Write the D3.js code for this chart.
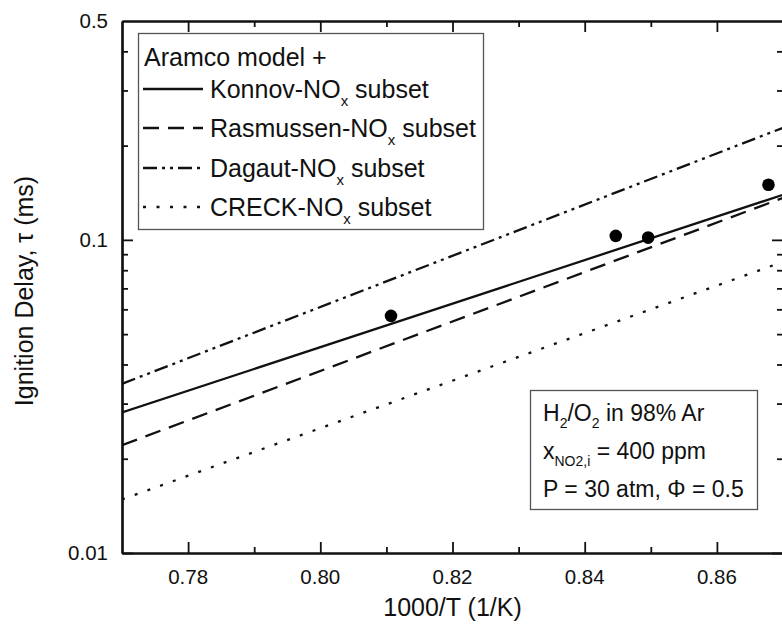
<!DOCTYPE html>
<html>
<head>
<meta charset="utf-8">
<script src="https://cdn.jsdelivr.net/npm/d3@7"></script>
<style>
  html, body { margin: 0; padding: 0; background: #fff; }
  svg { display: block; font-family: "Liberation Sans", Arial, sans-serif; }
</style>
</head>
<body>
<svg id="chart" width="782" height="627"></svg>
<script>
// Inverse temperature grid of the model curves (1000/T, 1/K)
const modelX = [0.77, 0.87];
// Ignition delay predictions (ms) for each NOx sub-mechanism
const konnovTau = [0.0281, 0.1393];
const rasmussenTau = [0.0221, 0.1362];
const dagautTau = [0.0347, 0.228];
const creckTau = [0.01482, 0.0851];

// Shock-tube measurements
const expX = [0.8107, 0.8447, 0.8496, 0.8678];
const expTau = [0.0572, 0.1030, 0.1017, 0.1499];

// Axis ticks
const xMajor = [0.78, 0.80, 0.82, 0.84, 0.86];
const xMinor = [0.79, 0.81, 0.83, 0.85, 0.87];
const xTickLabels = ["0.78", "0.80", "0.82", "0.84", "0.86"];
const yMajor = [0.01, 0.1];
const yMinor = [0.02, 0.03, 0.04, 0.05, 0.06, 0.07, 0.08, 0.09, 0.2, 0.3, 0.4];
const yLabelValues = [0.01, 0.1, 0.5];
const yTickLabels = ["0.01", "0.1", "0.5"];

const series = [
  { name: "Konnov", tau: konnovTau, dash: null },
  { name: "Rasmussen", tau: rasmussenTau, dash: "16,9" },
  { name: "Dagaut", tau: dagautTau, dash: "14,5,3,5,3,5" },
  { name: "CRECK", tau: creckTau, dash: "3,10.5" }
];

const ink = "#111";
const pLeft = 122, pRight = 783, pTop = 21, pBottom = 553;

const svg = d3.select("#chart");
const x = d3.scaleLinear().domain([0.77, 0.87]).range([pLeft, pRight]);
const y = d3.scaleLog().domain([0.01, 0.5]).range([pBottom, pTop]);

svg.append("defs").append("clipPath").attr("id", "plotClip")
  .append("rect").attr("x", pLeft).attr("y", pTop)
  .attr("width", pRight - pLeft).attr("height", pBottom - pTop);

// Model curves
const line = d3.line().x(d => x(d[0])).y(d => y(d[1]));
const curves = svg.append("g").attr("clip-path", "url(#plotClip)");
series.forEach(s => {
  curves.append("path")
    .datum(modelX.map((v, i) => [v, s.tau[i]]))
    .attr("d", line)
    .attr("fill", "none")
    .attr("stroke", ink)
    .attr("stroke-width", 2.3)
    .attr("stroke-dasharray", s.dash);
});

// Measurements
svg.append("g").selectAll("circle")
  .data(expX.map((v, i) => [v, expTau[i]]))
  .join("circle")
  .attr("cx", d => x(d[0]))
  .attr("cy", d => y(d[1]))
  .attr("r", 6.3)
  .attr("fill", "#000");

// Axes: ticks pointing inward on all four sides
function styleAxis(g) {
  g.selectAll(".domain").attr("stroke", ink).attr("stroke-width", 2.2);
  g.selectAll(".tick line").attr("stroke", ink).attr("stroke-width", 1.8);
  g.selectAll("text").remove();
}
const axes = svg.append("g");
[[d3.axisBottom, pBottom, -11, xMajor], [d3.axisBottom, pBottom, -6, xMinor],
 [d3.axisTop, pTop, -11, xMajor], [d3.axisTop, pTop, -6, xMinor]].forEach(([fn, pos, size, vals]) => {
  axes.append("g").attr("transform", `translate(0,${pos})`)
    .call(fn(x).tickValues(vals).tickSize(size).tickSizeOuter(0)).call(styleAxis);
});
[[d3.axisLeft, pLeft, -11, yMajor], [d3.axisLeft, pLeft, -6, yMinor],
 [d3.axisRight, pRight, -11, yMajor], [d3.axisRight, pRight, -6, yMinor]].forEach(([fn, pos, size, vals]) => {
  axes.append("g").attr("transform", `translate(${pos},0)`)
    .call(fn(y).tickValues(vals).tickSize(size).tickSizeOuter(0)).call(styleAxis);
});

// Tick labels
svg.append("g").selectAll("text")
  .data(xMajor)
  .join("text")
  .attr("x", d => x(d))
  .attr("y", pBottom + 31)
  .attr("text-anchor", "middle")
  .attr("font-size", 20.5)
  .attr("fill", ink)
  .text((d, i) => xTickLabels[i]);

svg.append("g").selectAll("text")
  .data(yLabelValues)
  .join("text")
  .attr("x", pLeft - 14)
  .attr("y", d => y(d) + 7)
  .attr("text-anchor", "end")
  .attr("font-size", 20.5)
  .attr("fill", ink)
  .text((d, i) => yTickLabels[i]);

// Axis titles
svg.append("text")
  .attr("x", (pLeft + pRight) / 2)
  .attr("y", 616)
  .attr("text-anchor", "middle")
  .attr("font-size", 25)
  .attr("fill", ink)
  .text("1000/T (1/K)");

svg.append("text")
  .attr("transform", `translate(33,291) rotate(-90)`)
  .attr("text-anchor", "middle")
  .attr("font-size", 25)
  .attr("fill", ink)
  .text("Ignition Delay, τ (ms)");

// Legend
const legend = svg.append("g");
legend.append("rect")
  .attr("x", 138.5).attr("y", 33.5).attr("width", 345).attr("height", 196)
  .attr("fill", "#fff").attr("stroke", "#555").attr("stroke-width", 1.3);
legend.append("text")
  .attr("x", 144).attr("y", 66)
  .attr("font-size", 25).attr("fill", ink)
  .text("Aramco model +");
const rowY = [89, 128, 168, 207];
series.forEach((s, i) => {
  legend.append("line")
    .attr("x1", 143).attr("x2", 203)
    .attr("y1", rowY[i]).attr("y2", rowY[i])
    .attr("stroke", ink).attr("stroke-width", 2.3)
    .attr("stroke-dasharray", s.dash);
  const t = legend.append("text")
    .attr("x", 210).attr("y", rowY[i] + 9)
    .attr("font-size", 25).attr("fill", ink);
  t.append("tspan").text(s.name + "-NO");
  t.append("tspan").attr("font-size", 15).attr("dy", 8).text("x");
  t.append("tspan").attr("dy", -8).text(" subset");
});

// Conditions box
const note = svg.append("g");
note.append("rect")
  .attr("x", 530.5).attr("y", 390.5).attr("width", 227).attr("height", 119)
  .attr("fill", "#fff").attr("stroke", "#555").attr("stroke-width", 1.3);
const n1 = note.append("text").attr("x", 543).attr("y", 421)
  .attr("font-size", 23).attr("fill", ink);
n1.append("tspan").text("H");
n1.append("tspan").attr("font-size", 14).attr("dy", 7).text("2");
n1.append("tspan").attr("dy", -7).text("/O");
n1.append("tspan").attr("font-size", 14).attr("dy", 7).text("2");
n1.append("tspan").attr("dy", -7).text(" in 98% Ar");
const n2 = note.append("text").attr("x", 543).attr("y", 459)
  .attr("font-size", 23).attr("fill", ink);
n2.append("tspan").text("x");
n2.append("tspan").attr("font-size", 14).attr("dy", 7).text("NO2,i");
n2.append("tspan").attr("dy", -7).text(" = 400 ppm");
note.append("text").attr("x", 543).attr("y", 497)
  .attr("font-size", 23).attr("fill", ink)
  .text("P = 30 atm, Φ = 0.5");
</script>
</body>
</html>
